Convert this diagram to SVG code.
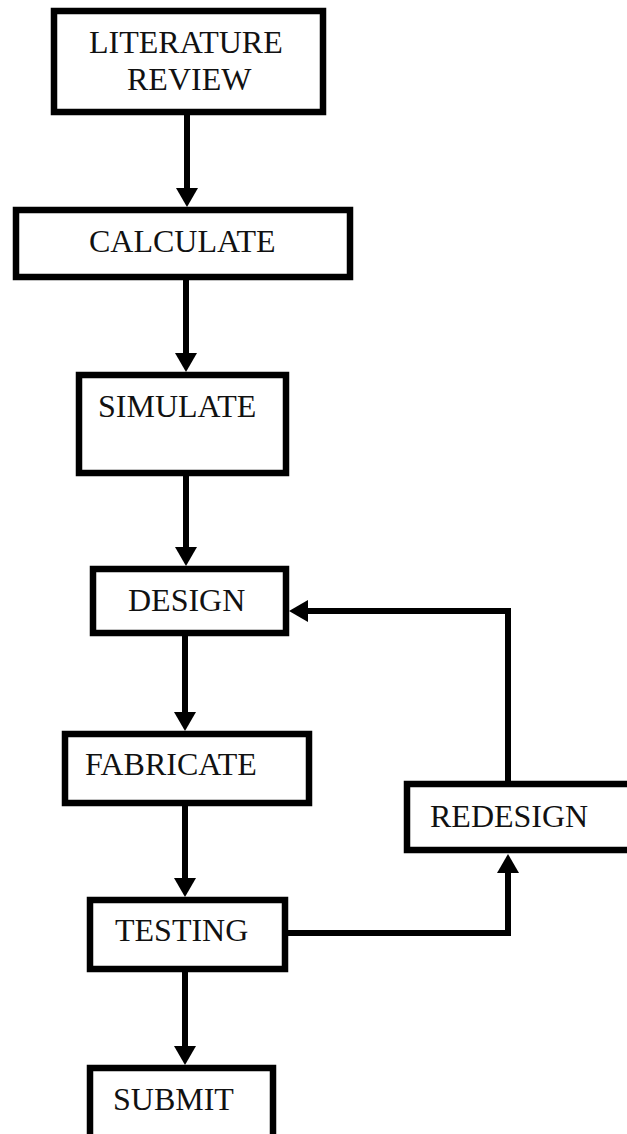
<svg xmlns="http://www.w3.org/2000/svg" width="627" height="1134" viewBox="0 0 627 1134">
<defs>
<style>
.box{fill:#fff;stroke:#000;stroke-width:6.5}
.lbl{font-family:"Liberation Serif","Times New Roman",serif;font-size:32px;fill:#111}
.con{fill:none;stroke:#000;stroke-width:6;stroke-linejoin:miter}
</style>
<marker id="ah" markerUnits="userSpaceOnUse" markerWidth="20" markerHeight="22" refX="1" refY="11" orient="auto" overflow="visible">
<path d="M0,0 L19,11 L0,22 Z" fill="#000"/>
</marker>
</defs>
<rect width="627" height="1134" fill="#fff"/>
<g id="connectors">
<path class="con" d="M187,115 V189" marker-end="url(#ah)"/>
<path class="con" d="M186,280 V354" marker-end="url(#ah)"/>
<path class="con" d="M186,476 V548" marker-end="url(#ah)"/>
<path class="con" d="M185,636 V713" marker-end="url(#ah)"/>
<path class="con" d="M185,806 V879" marker-end="url(#ah)"/>
<path class="con" d="M185,972 V1047" marker-end="url(#ah)"/>
<path class="con" d="M288,933 H508 V872" marker-end="url(#ah)"/>
<path class="con" d="M508,781 V611 H307" marker-end="url(#ah)"/>
</g>
<g id="n-literature">
<rect class="box" x="54" y="11" width="269" height="101"/>
<text class="lbl" x="89" y="53">LITERATURE</text>
<text class="lbl" x="127" y="90">REVIEW</text>
</g>
<g id="n-calculate">
<rect class="box" x="16" y="210" width="334" height="67"/>
<text class="lbl" x="89" y="252">CALCULATE</text>
</g>
<g id="n-simulate">
<rect class="box" x="79" y="375" width="207" height="98"/>
<text class="lbl" x="98" y="417">SIMULATE</text>
</g>
<g id="n-design">
<rect class="box" x="93" y="569" width="193" height="64"/>
<text class="lbl" x="128" y="611">DESIGN</text>
</g>
<g id="n-fabricate">
<rect class="box" x="65" y="734" width="244" height="69"/>
<text class="lbl" x="85" y="775">FABRICATE</text>
</g>
<g id="n-redesign">
<rect class="box" x="407" y="784" width="230" height="66"/>
<text class="lbl" x="430" y="827">REDESIGN</text>
</g>
<g id="n-testing">
<rect class="box" x="90" y="900" width="195" height="69"/>
<text class="lbl" x="115" y="941">TESTING</text>
</g>
<g id="n-submit">
<rect class="box" x="90" y="1068" width="183" height="80"/>
<text class="lbl" x="113" y="1110">SUBMIT</text>
</g>
</svg>
